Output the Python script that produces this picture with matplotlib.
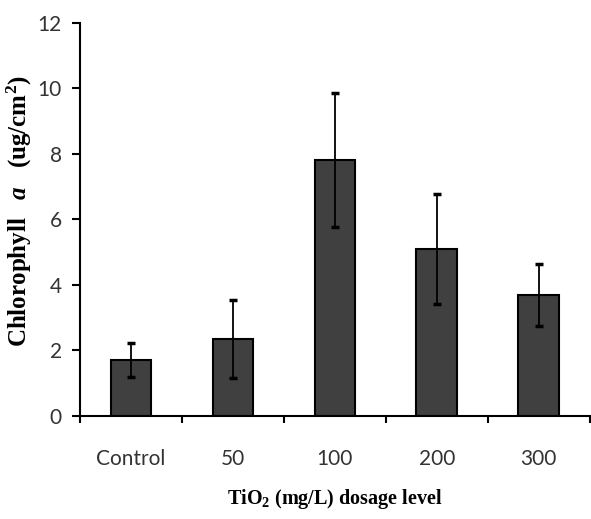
import numpy as np
import matplotlib.pyplot as plt

# Datos
categories = ["Control", "50", "100", "200", "300"]
chl_a = [1.71, 2.34, 7.82, 5.11, 3.69]
err = [0.52, 1.19, 2.05, 1.68, 0.94]
y_ticks = [0, 2, 4, 6, 8, 10, 12]

plt.rcParams.update({
    "mathtext.fontset": "custom",
    "mathtext.rm": "Liberation Serif:bold",
    "mathtext.bf": "Liberation Serif:bold",
    "mathtext.it": "Liberation Serif:bold:italic",
    "mathtext.bfit": "Liberation Serif:bold:italic",
})

fig = plt.figure(figsize=(5.91, 5.19), dpi=100)
ax = fig.add_axes([0.1354, 0.1985, 0.8626, 0.7572])

x = np.arange(len(categories))
ax.bar(x, chl_a, width=0.4, color="#404040", edgecolor="black", linewidth=1.5, zorder=2)
ax.errorbar(x, chl_a, yerr=err, fmt="none", ecolor="black", elinewidth=1.3,
            capsize=3, capthick=2.5, zorder=3)

ax.set_xlim(-0.5, 4.5)
ax.set_ylim(0, 12)
ax.set_yticks(y_ticks)
ax.set_xticks(np.arange(-0.5, 5, 1.0))
ax.set_xticklabels([])
ax.set_xticks(x, minor=True)
ax.set_xticklabels(categories, minor=True)

for s in ["top", "right"]:
    ax.spines[s].set_visible(False)
ax.spines["left"].set_linewidth(1.5)
ax.spines["bottom"].set_linewidth(1.5)

ax.tick_params(axis="y", direction="out", length=6, width=1.5, pad=7)
ax.tick_params(axis="x", which="major", direction="out", length=5, width=1.5)
ax.tick_params(axis="x", which="minor", length=0, pad=24)
for lab in ax.get_yticklabels() + ax.get_xticklabels(minor=True):
    lab.set_fontfamily(["Lato", "DejaVu Sans"])
    lab.set_fontsize(15)
    lab.set_color("#333333")

ax.set_xlabel(r"TiO$_{2}$ (mg/L) dosage level", family="Liberation Serif",
              fontweight="bold", fontsize=14.5)
ax.xaxis.set_label_coords(0.5, -0.18)
ax.set_ylabel(r"Chlorophyll   $\mathit{a}$   (ug/cm$^{2}$)", family="Liberation Serif",
              fontweight="bold", fontsize=18)
ax.yaxis.set_label_coords(-0.09, 0.52)

fig.savefig("out.png", dpi=100)
